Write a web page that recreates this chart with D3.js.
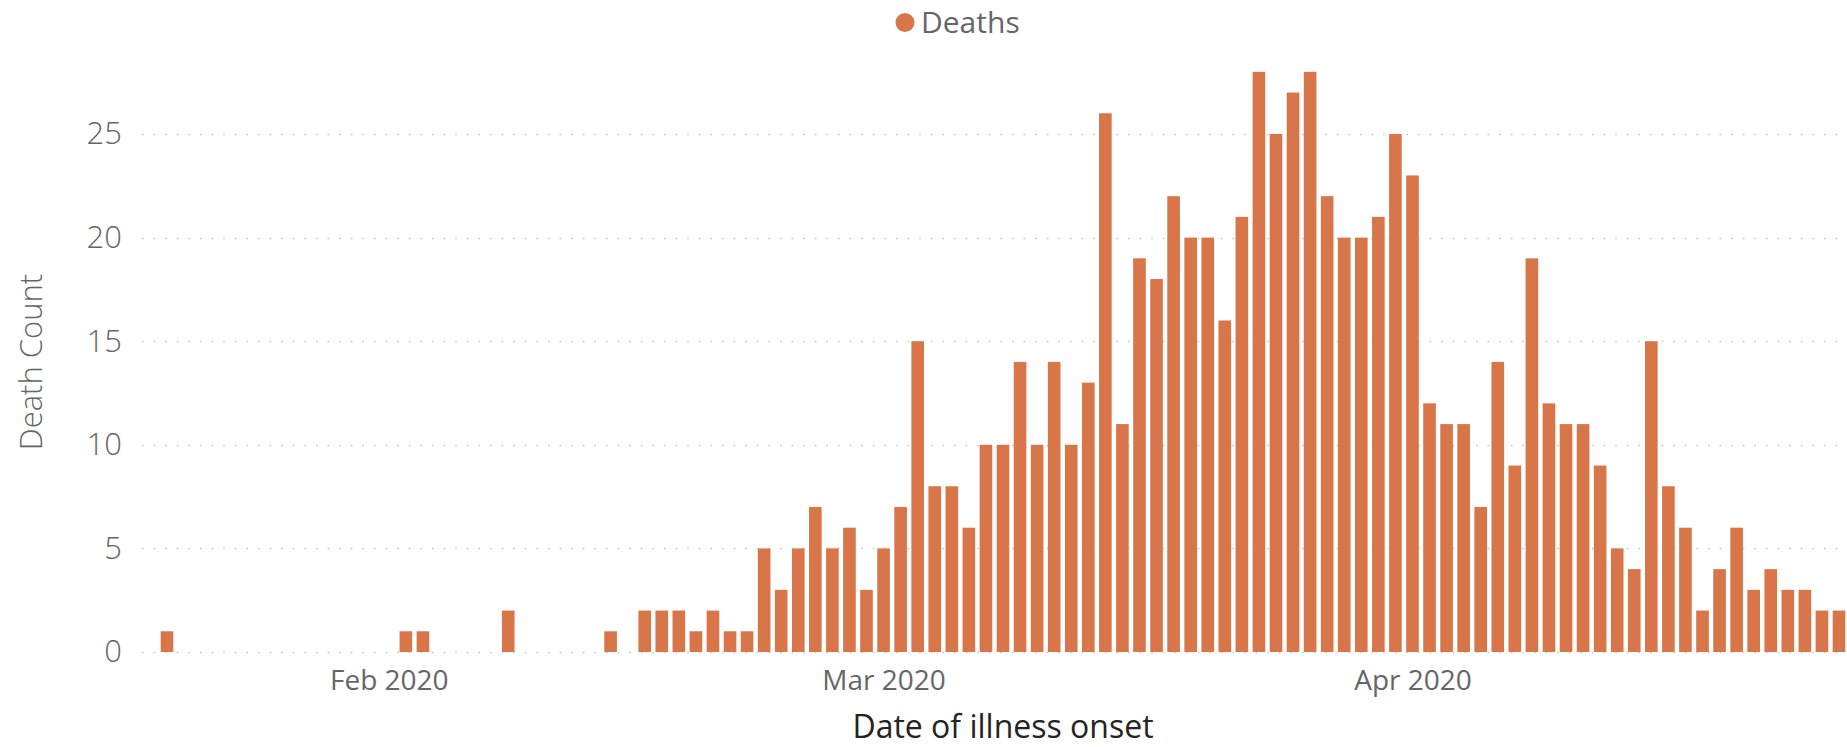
<!DOCTYPE html>
<html>
<head>
<meta charset="utf-8">
<script src="https://cdn.jsdelivr.net/npm/d3@7"></script>
<style>
  html, body { margin: 0; padding: 0; background: #ffffff; }
  svg { display: block; font-family: "Segoe UI", "Open Sans", sans-serif; }
</style>
</head>
<body>
<svg id="chart" width="1847" height="747"></svg>
<script>
// ---- data ----
const dates = [
  "2020-01-19",
  "2020-02-02","2020-02-03","2020-02-08","2020-02-14",
  "2020-02-16","2020-02-17","2020-02-18","2020-02-19","2020-02-20","2020-02-21","2020-02-22",
  "2020-02-23","2020-02-24","2020-02-25","2020-02-26","2020-02-27","2020-02-28","2020-02-29",
  "2020-03-01","2020-03-02","2020-03-03","2020-03-04","2020-03-05","2020-03-06","2020-03-07",
  "2020-03-08","2020-03-09","2020-03-10","2020-03-11","2020-03-12","2020-03-13","2020-03-14",
  "2020-03-15","2020-03-16","2020-03-17","2020-03-18","2020-03-19","2020-03-20","2020-03-21",
  "2020-03-22","2020-03-23","2020-03-24","2020-03-25","2020-03-26","2020-03-27","2020-03-28",
  "2020-03-29","2020-03-30","2020-03-31",
  "2020-04-01","2020-04-02","2020-04-03","2020-04-04","2020-04-05","2020-04-06","2020-04-07",
  "2020-04-08","2020-04-09","2020-04-10","2020-04-11","2020-04-12","2020-04-13","2020-04-14",
  "2020-04-15","2020-04-16","2020-04-17","2020-04-18","2020-04-19","2020-04-20","2020-04-21",
  "2020-04-22","2020-04-23","2020-04-24","2020-04-25","2020-04-26"
];
const deaths = [
  1,
  1,1,2,1,
  2,2,2,1,2,1,1,
  5,3,5,7,5,6,3,
  5,7,15,8,8,6,10,
  10,14,10,14,10,13,26,
  11,19,18,22,20,20,16,
  21,28,25,27,28,22,20,
  20,21,25,
  23,12,11,11,7,14,9,
  19,12,11,11,9,5,4,
  15,8,6,2,4,6,3,
  4,3,3,2,2
];
const xDomainDays = ["2020-01-19", "2020-04-26"];
const xTickDates = ["2020-02-01", "2020-03-01", "2020-04-01"];
const yTicks = [0, 5, 10, 15, 20, 25];
const seriesName = "Deaths";
const xTitle = "Date of illness onset";
const yTitle = "Death Count";

// ---- chart ----
const parse = d3.utcParse("%Y-%m-%d");
const data = dates.map((d, i) => ({ date: parse(d), value: deaths[i] }));

const svg = d3.select("#chart");
const W = 1847, H = 747;
const barColor = "#D8764A";

const x = d3.scaleUtc()
  .domain(xDomainDays.map(parse))
  .range([167, 1839]);
const y = d3.scaleLinear()
  .domain([0, 25])
  .range([652, 134]);

const dayPx = x(parse("2020-01-20")) - x(parse("2020-01-19"));
const barW = dayPx * 0.74;

// gridlines
svg.append("g")
  .selectAll("line")
  .data(yTicks)
  .join("line")
  .attr("x1", 142)
  .attr("x2", W)
  .attr("y1", d => Math.round(y(d)) + 0.5)
  .attr("y2", d => Math.round(y(d)) + 0.5)
  .attr("stroke", "#c6c6c6")
  .attr("stroke-width", 1.6)
  .attr("stroke-dasharray", "1.6,10");

// bars
svg.append("g")
  .selectAll("rect")
  .data(data)
  .join("rect")
  .attr("x", d => x(d.date) - barW / 2)
  .attr("width", barW)
  .attr("y", d => y(d.value))
  .attr("height", d => y(0) - y(d.value))
  .attr("fill", barColor);

// y axis labels
const yAxis = d3.axisLeft(y).tickValues(yTicks).tickSize(0).tickPadding(0);
const gy = svg.append("g").attr("transform", "translate(122,0)").call(yAxis);
gy.select(".domain").remove();
gy.selectAll("text")
  .attr("fill", "#666666")
  .style("font-size", "31px")
  .style("font-weight", 300)
  .style("font-family", "'Segoe UI', 'Open Sans', sans-serif");

// x axis labels
const xAxis = d3.axisBottom(x)
  .tickValues(xTickDates.map(parse))
  .tickFormat(d3.utcFormat("%b %Y"))
  .tickSize(0)
  .tickPadding(0);
const gx = svg.append("g").attr("transform", "translate(0,669)").call(xAxis);
gx.select(".domain").remove();
gx.selectAll("text")
  .attr("dy", "0.74em")
  .attr("fill", "#666666")
  .style("font-size", "28px")
  .style("font-family", "'Segoe UI', 'Open Sans', sans-serif");

// x title
svg.append("text")
  .attr("x", 1003)
  .attr("y", 738)
  .attr("text-anchor", "middle")
  .attr("fill", "#252423")
  .style("font-size", "32px")
  .text(xTitle);

// y title
svg.append("text")
  .attr("transform", "translate(42,362) rotate(-90)")
  .attr("text-anchor", "middle")
  .attr("fill", "#666666")
  .style("font-size", "31px")
  .style("font-weight", 300)
  .text(yTitle);

// legend
const lg = svg.append("g");
lg.append("circle")
  .attr("cx", 905)
  .attr("cy", 22.5)
  .attr("r", 9.5)
  .attr("fill", barColor);
lg.append("text")
  .attr("x", 921)
  .attr("y", 33)
  .attr("fill", "#666666")
  .style("font-size", "30px")
  .text(seriesName);
</script>
</body>
</html>
